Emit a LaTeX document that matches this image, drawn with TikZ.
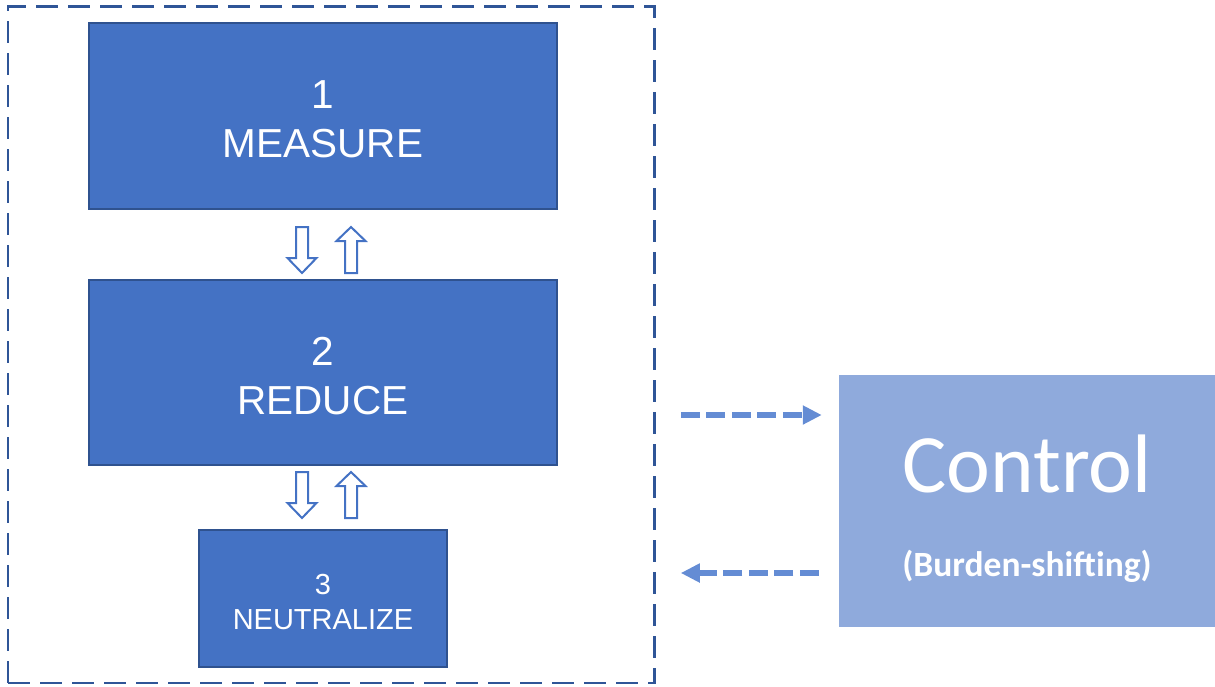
\documentclass[tikz,border=0pt]{standalone}
\usepackage{fontspec}
\usetikzlibrary{arrows.meta}
\newfontfamily\boxfont{Liberation Sans}
\newfontfamily\ctrlfont{Carlito}
\definecolor{stepfill}{RGB}{68,114,196}
\definecolor{stepline}{RGB}{47,82,143}
\definecolor{framecol}{RGB}{47,85,151}
\definecolor{ctrlfill}{RGB}{143,170,220}
\definecolor{flowcol}{RGB}{100,140,212}

\begin{document}
\begin{tikzpicture}[x=1pt, y=-1pt,
    stepbox/.style={draw=stepline, line width=2pt, fill=stepfill, text=white,
        inner sep=0pt, align=center},
    framebox/.style={draw=framecol, line width=2.5pt, dash pattern=on 22pt off 10pt,
        inner sep=0pt},
    ctrlbox/.style={fill=ctrlfill, inner sep=0pt},
    hollow/.style={draw=stepfill, line width=2pt, fill=white, line join=miter},
    flow/.style={draw=flowcol, line width=6pt, dash pattern=on 19pt off 6.5pt,
        -{Triangle[length=19pt, width=18pt]}}]
    \useasboundingbox (0,0) rectangle (1215,686);
    \node[framebox, minimum width=646.5pt, minimum height=676.5pt] (frame) at (331.25,344.75) {};
    % the three steps
    \node[stepbox, minimum width=468pt, minimum height=186pt,
        font=\boxfont\fontsize{40.5}{49}\selectfont] (measure) at (323,116) {\rule{0pt}{34pt}1\\MEASURE};
    \node[stepbox, minimum width=468pt, minimum height=185pt,
        font=\boxfont\fontsize{40.5}{49}\selectfont] (reduce) at (323,372.5) {\rule{0pt}{35pt}2\\REDUCE};
    \node[stepbox, minimum width=248pt, minimum height=137pt,
        font=\boxfont\fontsize{29}{35}\selectfont] (neutral) at (323,598.5) {\rule{0pt}{28pt}3\\NEUTRALIZE};
    % hollow arrows between the steps
    \foreach \t in {227,472} {
        \draw[hollow] (296,\t) -- (308,\t) -- (308,{\t+31}) -- (316.5,{\t+31})
            -- (302,{\t+46}) -- (287.5,{\t+31}) -- (296,{\t+31}) -- cycle;
        \draw[hollow] (351,\t) -- (365.5,{\t+14}) -- (357,{\t+14}) -- (357,{\t+46})
            -- (345,{\t+46}) -- (345,{\t+14}) -- (336.5,{\t+14}) -- cycle;
    }
    % control
    \node[ctrlbox, minimum width=376pt, minimum height=252pt] (ctrl) at (1027,501) {};
    \node[text=white, inner sep=0pt, anchor=base, font=\ctrlfont\fontsize{83}{90}\selectfont]
        (ctrltitle) at (ctrl.center |- 0,492) {Control};
    \node[text=white, inner sep=0pt, anchor=base, font=\ctrlfont\bfseries\fontsize{35.5}{42}\selectfont]
        (ctrlnote) at (ctrl.center |- 0,576) {(Burden-shifting)};
    \draw[flow, shorten <=25pt, shorten >=17pt] (frame.east |- 0,415) -- (ctrl.west |- 0,415);
    \draw[flow, shorten <=20pt, shorten >=25pt] (ctrl.west |- 0,573) -- (frame.east |- 0,573);
\end{tikzpicture}
\end{document}
